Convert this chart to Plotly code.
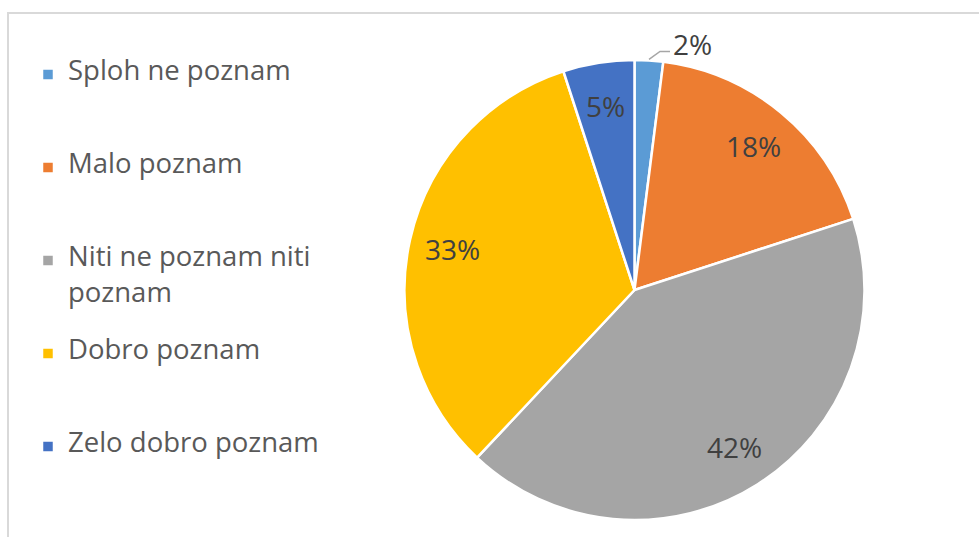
import math
import plotly.graph_objects as go

# ---- data ----
categories = ["Sploh ne poznam", "Malo poznam", "Niti ne poznam niti poznam",
              "Dobro poznam", "Zelo dobro poznam"]
legend_lines = [["Sploh ne poznam"], ["Malo poznam"], ["Niti ne poznam niti", "poznam"],
                ["Dobro poznam"], ["Zelo dobro poznam"]]
values = [2, 18, 42, 33, 5]
colors = ["#5B9BD5", "#ED7D31", "#A5A5A5", "#FFC000", "#4472C4"]

# ---- geometry (pixels) ----
W, H = 979, 537
CX, CY, R = 634.5, 290.0, 230.0
LABEL_R = 0.81
TEXT_COLOR = "#404040"
FONT = "Open Sans"
LEG_LINE_PX = 18.0          # legend line pitch (5 sub-lines per entry)
LEG_FONT = LEG_LINE_PX / 1.3


def px_to_paper(x, y):
    return x / W, 1 - y / H


def legend_text(lines):
    sp = lambda t: f"<span style='font-size:27.5px'>{t}</span>"
    if len(lines) == 1:
        parts = [" ", " ", sp(lines[0]), " ", " "]
    else:
        parts = [" ", " ", sp(lines[0]), " ", sp(lines[1])]
    return "<br>".join(parts)


labels = [legend_text(l) for l in legend_lines]

fig = go.Figure(go.Pie(
    labels=labels,
    values=values,
    sort=False,
    direction="clockwise",
    rotation=0,
    marker=dict(colors=colors, line=dict(color="white", width=2.5)),
    textinfo="none",
    hoverinfo="percent",
    domain=dict(x=[(CX - R) / W, (CX + R) / W], y=[1 - (CY + R) / H, 1 - (CY - R) / H]),
    showlegend=True,
))

total = sum(values)
cum = 0
annotations = []
shapes = []
for v in values:
    ang = (cum + v / 2) / total * 2 * math.pi
    cum += v
    s, c = math.sin(ang), math.cos(ang)
    txt = f"{round(v / total * 100)}%"
    if v / total >= 0.04:
        x, y = px_to_paper(CX + LABEL_R * R * s, CY - LABEL_R * R * c)
        annotations.append(dict(x=x, y=y, xref="paper", yref="paper", text=txt,
                                showarrow=False, xanchor="center", yanchor="middle",
                                font=dict(family=FONT, size=28, color=TEXT_COLOR)))
    else:
        sx, sy = CX + (R + 1) * s, CY - (R + 1) * c
        ex, ey = sx + 11, sy - 8
        fx, fy = ex + 10, ey
        p0 = px_to_paper(sx, sy)
        p1 = px_to_paper(ex, ey)
        p2 = px_to_paper(fx, fy)
        shapes.append(dict(type="path", xref="paper", yref="paper",
                           path=f"M {p0[0]},{p0[1]} L {p1[0]},{p1[1]} L {p2[0]},{p2[1]}",
                           line=dict(color="#A6A6A6", width=1.5)))
        tx, ty = px_to_paper(fx + 1, fy - 7)
        annotations.append(dict(x=tx, y=ty, xref="paper", yref="paper", text=txt,
                                showarrow=False, xanchor="left", yanchor="middle",
                                font=dict(family=FONT, size=28, color=TEXT_COLOR)))

# chart frame
bx, by = px_to_paper(8, 13)
shapes.append(dict(type="rect", xref="paper", yref="paper", x0=bx, x1=1.05, y0=-0.05, y1=by,
                   line=dict(color="#D9D9D9", width=2), fillcolor="rgba(0,0,0,0)", layer="below"))

lx, ly = px_to_paper(28, 23)
fig.update_layout(
    width=W, height=H,
    margin=dict(l=0, r=0, t=0, b=0),
    paper_bgcolor="white",
    plot_bgcolor="white",
    font=dict(family=FONT, color="#595959"),
    legend=dict(x=lx, y=ly, xanchor="left", yanchor="top",
                font=dict(family=FONT, size=LEG_FONT, color="#595959"),
                bgcolor="rgba(0,0,0,0)"),
    annotations=annotations,
    shapes=shapes,
)

fig.write_html("out.html", config={"displayModeBar": False},
               post_script="document.body.style.margin='0px';document.body.style.overflow='hidden';")
